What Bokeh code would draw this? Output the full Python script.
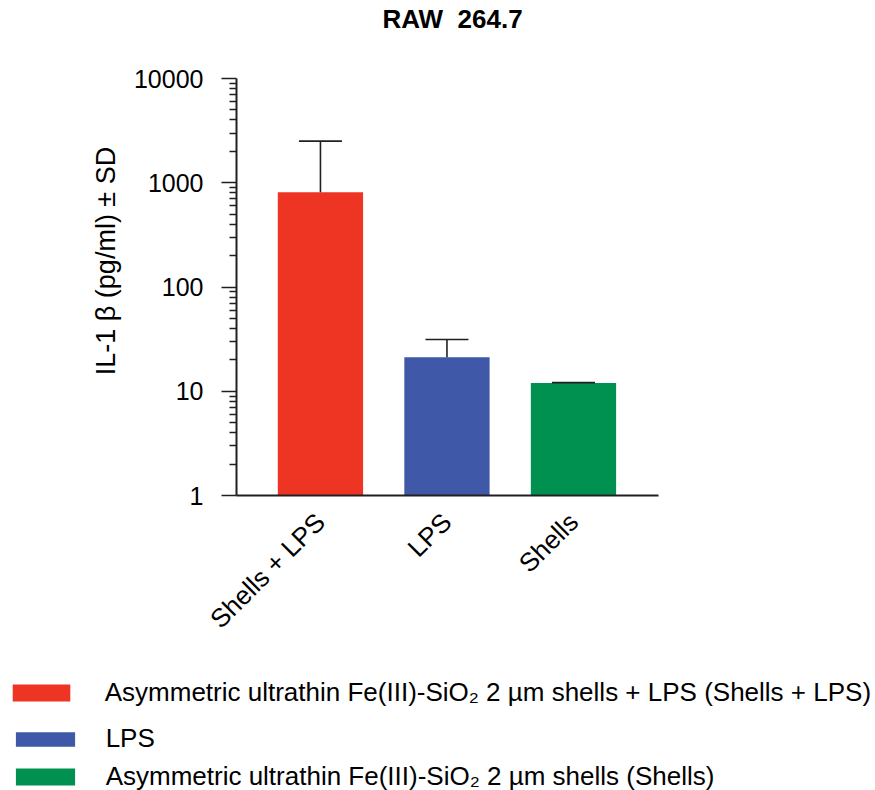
import math
from bokeh.plotting import figure
from bokeh.models import (Range1d, FixedTicker, NumeralTickFormatter, Whisker, TeeHead,
                          ColumnDataSource, Legend, LegendItem, Label)
from bokeh.embed import file_html
from bokeh.resources import INLINE

# ---- data ----
categories = ["Shells + LPS", "LPS", "Shells"]
means = [810, 21.2, 12.0]
sds = [1700, 10.2, 0.1]
colors = ["#EE3524", "#3F58A7", "#009150"]
legend_labels = [
    "Asymmetric ultrathin Fe(III)-SiO\u2082 2 \u00b5m shells + LPS (Shells + LPS)",
    "LPS",
    "Asymmetric ultrathin Fe(III)-SiO\u2082 2 \u00b5m shells (Shells)",
]
y_major = [1, 10, 100, 1000, 10000]
title_text = "RAW\u00a0\u00a0264.7"
y_label = "IL-1 \u03b2 (pg/ml) \u00b1 SD"

FONT = "Liberation Sans"
INK = "#231F20"
W, H = 875, 790

# plot-area geometry (pixels): axes drawn inside a full-canvas frame
AX_L, AX_R, AX_T, AX_B = 236, 658, 78, 495
X0, X1 = 0.3365, 3.672          # x data span of the axes box
Y0, Y1 = 1, 10000               # y data span of the axes box
ppx = (AX_R - AX_L) / (X1 - X0)
ppd = (AX_B - AX_T) / (math.log10(Y1) - math.log10(Y0))
x_range = Range1d(X0 - AX_L / ppx, X1 + (W - AX_R) / ppx)
y_range = Range1d(10 ** (math.log10(Y0) - (H - AX_B) / ppd),
                  10 ** (math.log10(Y1) + AX_T / ppd))

xs = [i + 1 for i in range(len(categories))]
src = ColumnDataSource(dict(
    x=xs, top=means, bottom=[1] * len(means),
    upper=[m + s for m, s in zip(means, sds)], color=colors,
))

p = figure(width=W, height=H, y_axis_type="log", x_range=x_range, y_range=y_range,
           toolbar_location=None, output_backend="svg",
           min_border=0, min_border_left=0, min_border_right=0,
           min_border_top=0, min_border_bottom=0)
p.outline_line_color = None
p.grid.visible = False
p.background_fill_color = "white"
p.border_fill_color = "white"

bars = p.vbar(x="x", top="top", bottom="bottom", width=0.674, fill_color="color",
              line_color=None, source=src)

wh = Whisker(base="x", lower="top", upper="upper", source=src,
             line_color=INK, line_width=1.6,
             upper_head=TeeHead(size=43, line_color=INK, line_width=1.6),
             lower_head=None, level="overlay")
p.add_layout(wh)

# y axis
minor = [m * d for d in y_major[:-1] for m in range(2, 10)]
ya = p.yaxis[0]
ya.fixed_location = X0
ya.bounds = (Y0, Y1)
ya.ticker = FixedTicker(ticks=y_major, minor_ticks=minor)
ya.formatter = NumeralTickFormatter(format="0")
ya.major_label_text_font = FONT
ya.major_label_text_font_size = "25px"
ya.major_label_text_color = "black"
ya.major_label_standoff = 18
ya.axis_line_color = INK
ya.axis_line_width = 2
ya.major_tick_line_color = INK
ya.major_tick_line_width = 1.6
ya.minor_tick_line_color = INK
ya.minor_tick_line_width = 1.4
ya.major_tick_in = 0
ya.major_tick_out = 15
ya.minor_tick_in = 0
ya.minor_tick_out = 7

# x axis
xa = p.xaxis[0]
xa.fixed_location = Y0
xa.bounds = (X0, X1)
xa.ticker = FixedTicker(ticks=xs)
xa.major_label_overrides = {x: c for x, c in zip(xs, categories)}
xa.major_label_orientation = math.pi / 4
xa.major_label_text_font = FONT
xa.major_label_text_font_size = "26px"
xa.major_label_text_color = "black"
xa.major_label_standoff = 16
xa.major_tick_line_color = None
xa.minor_tick_line_color = None
xa.axis_line_color = INK
xa.axis_line_width = 2

# title and y label
p.add_layout(Label(x=382, y=H - 3, x_units="screen", y_units="screen", text=title_text,
                   text_align="left", text_baseline="top", text_font=FONT,
                   text_font_size="26px", text_font_style="bold", text_color="black"))
p.add_layout(Label(x=105, y=H - 260.5, x_units="screen", y_units="screen", text=y_label,
                   angle=math.pi / 2, text_align="center", text_baseline="middle",
                   text_font=FONT, text_font_size="27px", text_color="black"))

# legend blocks (area swatches are drawn with a 10% inset, so size boxes accordingly)
item_h = 32
centers = [691.5, 738, 775.5]
sw_left = [12, 15, 15]
sw_w = [58, 59, 59]
sw_h = [17, 14, 17]
for i, lab in enumerate(legend_labels):
    gw = sw_w[i] / 0.8
    gh = sw_h[i] / 0.8
    left = sw_left[i] - 0.1 * gw
    lg = Legend(items=[LegendItem(label=lab, renderers=[bars], index=i)],
                location=(left, H - (centers[i] + item_h / 2)),
                padding=0, margin=0, border_line_color=None, background_fill_alpha=0,
                glyph_width=round(gw), glyph_height=round(gh), label_height=round(gh),
                label_standoff=round(105 - left - gw),
                label_text_font=FONT, label_text_font_size="26px",
                label_text_color="black")
    p.add_layout(lg)

open("out.html", "w").write(file_html(p, INLINE))
